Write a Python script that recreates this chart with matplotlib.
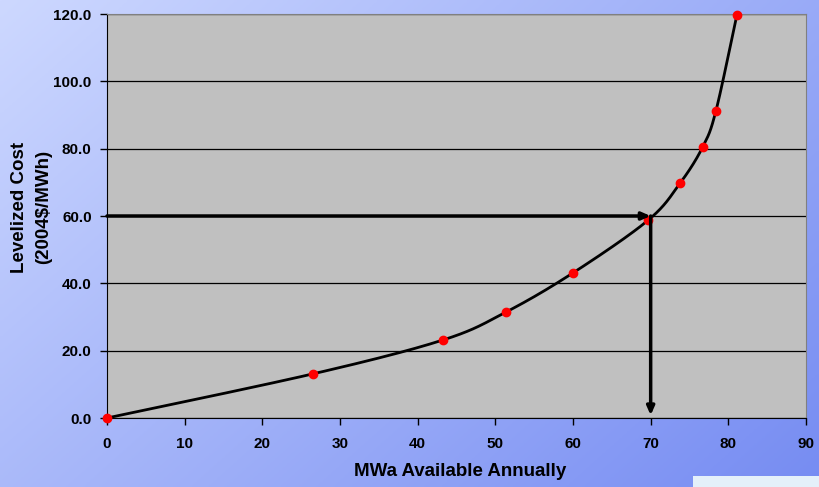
import numpy as np
import matplotlib.pyplot as plt
from matplotlib.patches import Rectangle

plt.rcParams['font.family'] = ['Liberation Sans', 'DejaVu Sans']
plt.rcParams['font.weight'] = 'bold'

# supply curve points
mwa = [0.0, 26.5, 43.3, 51.4, 60.0, 69.7, 73.8, 76.7, 78.4, 81.1]
cost = [0.0, 13.1, 23.2, 31.5, 43.1, 58.8, 69.8, 80.5, 91.2, 119.7]

# target reading on the curve
target_mwa = 70.0
target_cost = 60.0

x_ticks = [0, 10, 20, 30, 40, 50, 60, 70, 80, 90]
y_ticks = [0, 20, 40, 60, 80, 100, 120]


def smooth(xs, ys, n=30):
    # Catmull-Rom spline through the points, like a spreadsheet "smoothed line"
    p = np.column_stack([xs, ys])
    p = np.vstack([p[0], p, p[-1]])
    out = []
    t = np.linspace(0, 1, n, endpoint=False)
    for i in range(1, len(p) - 2):
        p0, p1, p2, p3 = p[i - 1], p[i], p[i + 1], p[i + 2]
        seg = 0.5 * ((2 * p1)[None, :]
                     + np.outer(t, -p0 + p2)
                     + np.outer(t ** 2, 2 * p0 - 5 * p1 + 4 * p2 - p3)
                     + np.outer(t ** 3, -p0 + 3 * p1 - 3 * p2 + p3))
        out.append(seg)
    out.append(p[-2][None, :])
    out = np.vstack(out)
    return out[:, 0], out[:, 1]


W, H = 819, 487
fig = plt.figure(figsize=(W / 100, H / 100), dpi=100)

# blue gradient backdrop
bg = fig.add_axes([0, 0, 1, 1], zorder=-10)
gx, gy = np.meshgrid(np.linspace(0, 1, 200), np.linspace(0, 1, 200))
g = np.clip(0.6 * gx + 0.4 * gy, 0, 1)
c0 = np.array([205, 216, 255]) / 255
c1 = np.array([118, 140, 242]) / 255
img = c0[None, None, :] * (1 - g[..., None]) + c1[None, None, :] * g[..., None]
bg.imshow(img, aspect='auto', extent=[0, 1, 0, 1], origin='upper')
bg.axis('off')
fig.patches.append(Rectangle((693 / W, 0), 126 / W, 11 / H, transform=fig.transFigure,
                             facecolor='#e4f0fa', edgecolor='none'))

ax = fig.add_axes([107 / W, 69 / H, 699 / W, 404 / H])
ax.set_facecolor('#c0c0c0')
ax.set_xlim(0, 90)
ax.set_ylim(0, 120)
ax.set_xticks(x_ticks)
ax.set_yticks(y_ticks)
ax.set_yticklabels([f'{v:.1f}' for v in y_ticks])
ax.tick_params(direction='out', length=5, width=1, labelsize=11)
ax.tick_params(axis='y', pad=6)
ax.tick_params(axis='x', pad=9)
for s in ['top', 'right']:
    ax.spines[s].set_color('#808080')
for s in ['left', 'bottom']:
    ax.spines[s].set_color('black')
ax.grid(axis='y', color='black', linewidth=0.9)
ax.set_axisbelow(True)

sx, sy = smooth(mwa, cost)
ax.plot(sx, sy, color='black', linewidth=2, zorder=3, clip_on=False)
ax.plot(mwa, cost, 'o', color='red', markersize=6, zorder=4, clip_on=False)

arrow = dict(arrowstyle='-|>,head_length=0.5,head_width=0.22', color='black', lw=2.5,
             shrinkA=0, shrinkB=0)
ax.annotate('', xy=(target_mwa, target_cost), xytext=(0, target_cost), arrowprops=arrow, zorder=5)
ax.annotate('', xy=(target_mwa, 0.8), xytext=(target_mwa, target_cost), arrowprops=arrow, zorder=5)

fig.text(460 / W, 1 - 472 / H, 'MWa Available Annually', fontsize=13.5, fontweight='bold',
         ha='center', va='center')
fig.text(31.5 / W, 1 - 207 / H, 'Levelized Cost\n(2004$/MWh)', fontsize=13.5, fontweight='bold',
         ha='center', va='center', rotation=90, linespacing=1.55, multialignment='center')

fig.savefig('out.png', dpi=100)
